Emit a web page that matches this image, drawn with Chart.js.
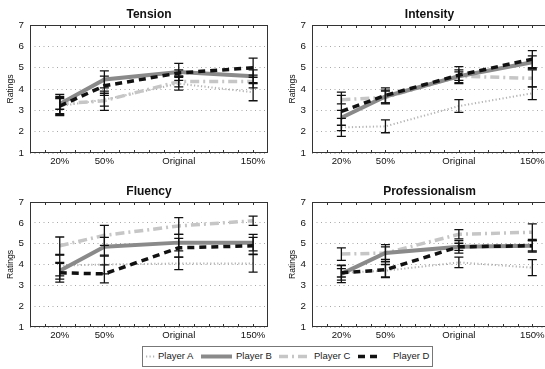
<!DOCTYPE html>
<html>
<head>
<meta charset="utf-8">
<script src="https://cdn.jsdelivr.net/npm/chart.js@4.4.0/dist/chart.umd.min.js"></script>
<style>
  html, body { margin: 0; padding: 0; background: #fff; }
  body { width: 545px; height: 369px; overflow: hidden; position: relative; font-family: "Liberation Sans", Arial, sans-serif; }
  canvas { position: absolute; }
  #legend { position: absolute; left: 142px; top: 346px; width: 289px; height: 19px; border: 1px solid #777; background: #fff; }
  #legend svg { position: absolute; top: 0; }
  #legend span { position: absolute; top: 3px; font-size: 9.5px; color: #222; white-space: nowrap; }
</style>
</head>
<body>
<canvas id="chartTension" style="left:0px;top:0px;width:275px;height:172px"></canvas>
<canvas id="chartIntensity" style="left:282px;top:0px;width:273px;height:172px"></canvas>
<canvas id="chartFluency" style="left:0px;top:177px;width:275px;height:169px"></canvas>
<canvas id="chartProf" style="left:282px;top:177px;width:273px;height:169px"></canvas>
<div id="legend"></div>
<script>
// x positions (speed in %) and their labels
const xValues = [20, 50, 100, 150];
const xLabels = ['20%', '50%', 'Original', '150%'];
const players = ['Player A', 'Player B', 'Player C', 'Player D'];

// Tension
const tensionA = [3.2, 3.5, 4.25, 3.85];
const tensionB = [3.3, 4.45, 4.8, 4.6];
const tensionC = [3.3, 3.45, 4.35, 4.35];
const tensionD = [3.2, 4.15, 4.75, 5.0];
const tensionErrA = [0.4, 0.3, 0.3, 0.4];
const tensionErrB = [0.45, 0.4, 0.4, 0.3];
const tensionErrC = [0.25, 0.45, 0.25, 0.3];
const tensionErrD = [0.45, 0.45, 0.15, 0.45];

// Intensity
const intensityA = [2.2, 2.25, 3.2, 3.8];
const intensityB = [2.65, 3.65, 4.6, 5.25];
const intensityC = [3.5, 3.6, 4.6, 4.5];
const intensityD = [2.95, 3.7, 4.65, 5.4];
const intensityErrA = [0.42, 0.3, 0.3, 0.3];
const intensityErrB = [0.35, 0.3, 0.3, 0.3];
const intensityErrC = [0.2, 0.3, 0.2, 0.4];
const intensityErrD = [0.9, 0.35, 0.4, 0.4];

// Fluency
const fluencyA = [3.95, 4.0, 4.05, 4.05];
const fluencyB = [3.7, 4.85, 5.05, 5.05];
const fluencyC = [4.9, 5.4, 5.85, 6.1];
const fluencyD = [3.6, 3.55, 4.8, 4.9];
const fluencyErrA = [0.5, 0.45, 0.3, 0.42];
const fluencyErrB = [0.4, 0.45, 0.4, 0.4];
const fluencyErrC = [0.42, 0.48, 0.4, 0.22];
const fluencyErrD = [0.45, 0.43, 0.45, 0.4];

// Professionalism
const profA = [3.6, 3.7, 4.1, 3.85];
const profB = [3.55, 4.55, 4.85, 4.9];
const profC = [4.5, 4.55, 5.45, 5.55];
const profD = [3.6, 3.75, 4.85, 4.9];
const profErrA = [0.2, 0.3, 0.25, 0.38];
const profErrB = [0.42, 0.4, 0.3, 0.3];
const profErrC = [0.3, 0.3, 0.22, 0.4];
const profErrD = [0.35, 0.38, 0.17, 0.25];

const FONT = '"Liberation Sans", Arial, sans-serif';

const styles = [
    { borderColor: '#b4b4b4', borderWidth: 2, borderDash: [1.2, 2.3], order: 4 },
    { borderColor: '#8a8a8a', borderWidth: 4, borderDash: [], order: 2 },
    { borderColor: '#c6c6c6', borderWidth: 3.5, borderDash: [9, 4, 2, 4], order: 3 },
    { borderColor: '#111111', borderWidth: 3.5, borderDash: [7, 5], order: 1 }
];

// title drawn centered over the plot area
const panelTitle = {
    id: 'panelTitle',
    afterDraw(chart, args, opts) {
        const ctx = chart.ctx;
        const area = chart.chartArea;
        ctx.save();
        ctx.font = 'bold 12px ' + FONT;
        ctx.fillStyle = '#111';
        ctx.textAlign = 'center';
        ctx.textBaseline = 'middle';
        ctx.fillText(opts.text, (area.left + area.right) / 2, area.top - 10.5);
        ctx.restore();
    }
};

// box around plot area with inward tick marks
const frame = {
    id: 'frame',
    afterDatasetsDraw(chart) {
        const ctx = chart.ctx;
        const area = chart.chartArea;
        const xs = chart.scales.x;
        ctx.save();
        ctx.strokeStyle = '#333';
        ctx.lineWidth = 1;
        ctx.strokeRect(area.left + 0.5, area.top + 0.5, area.right - area.left - 1, area.bottom - area.top - 1);
        ctx.beginPath();
        for (let v = 10; v < 160; v += 10) {
            const px = Math.round(xs.getPixelForValue(v)) + 0.5;
            ctx.moveTo(px, area.top);
            ctx.lineTo(px, area.top + 3);
            ctx.moveTo(px, area.bottom);
            ctx.lineTo(px, area.bottom - 3);
        }
        ctx.stroke();
        ctx.restore();
    }
};

const errorBars = {
    id: 'errorBars',
    afterDatasetsDraw(chart) {
        const ctx = chart.ctx;
        const ys = chart.scales.y;
        ctx.save();
        ctx.strokeStyle = '#111';
        ctx.lineWidth = 1.3;
        chart.data.datasets.forEach((ds, i) => {
            const meta = chart.getDatasetMeta(i);
            meta.data.forEach((pt, j) => {
                const v = ds.data[j].y;
                const e = ds.errors[j];
                const top = ys.getPixelForValue(v + e);
                const bot = ys.getPixelForValue(v - e);
                ctx.beginPath();
                ctx.moveTo(pt.x, top);
                ctx.lineTo(pt.x, bot);
                ctx.moveTo(pt.x - 4.5, top);
                ctx.lineTo(pt.x + 4.5, top);
                ctx.moveTo(pt.x - 4.5, bot);
                ctx.lineTo(pt.x + 4.5, bot);
                ctx.stroke();
            });
        });
        ctx.restore();
    }
};

function makePanel(id, title, series, errors, rightPad) {
    const datasets = series.map((vals, i) => ({
        label: players[i],
        data: vals.map((v, j) => ({ x: xValues[j], y: v })),
        errors: errors[i],
        borderColor: styles[i].borderColor,
        borderWidth: styles[i].borderWidth,
        borderDash: styles[i].borderDash,
        order: styles[i].order,
        pointRadius: 0,
        tension: 0,
        fill: false
    }));
    return new Chart(document.getElementById(id), {
        type: 'line',
        data: { datasets: datasets },
        options: {
            responsive: false,
            animation: false,
            layout: { padding: { top: 25, right: rightPad, left: 0, bottom: 0 } },
            plugins: {
                legend: { display: false },
                tooltip: { enabled: false },
                panelTitle: { text: title }
            },
            scales: {
                x: {
                    type: 'linear',
                    min: 0,
                    max: 160,
                    afterBuildTicks: (scale) => {
                        scale.ticks = xValues.map(v => ({ value: v }));
                    },
                    afterFit: (scale) => { scale.height = 19; },
                    ticks: {
                        autoSkip: false,
                        maxRotation: 0,
                        padding: 3,
                        color: '#111',
                        font: { family: FONT, size: 9.6 },
                        callback: (value) => xLabels[xValues.indexOf(value)]
                    },
                    grid: { display: false, drawTicks: false },
                    border: { display: false }
                },
                y: {
                    min: 1,
                    max: 7,
                    afterFit: (scale) => { scale.width = 30; },
                    ticks: {
                        stepSize: 1,
                        padding: 6,
                        color: '#111',
                        font: { family: FONT, size: 9.8 }
                    },
                    grid: { color: '#a8a8a8', drawTicks: false, lineWidth: 1 },
                    border: { display: false, dash: [1, 3.5] },
                    title: {
                        display: true,
                        text: 'Ratings',
                        color: '#111',
                        padding: { top: 5, bottom: 0 },
                        font: { family: FONT, size: 8.6 }
                    }
                }
            }
        },
        plugins: [panelTitle, errorBars, frame]
    });
}

function sizeCanvas(id) {
    const c = document.getElementById(id);
    c.width = parseInt(c.style.width);
    c.height = parseInt(c.style.height);
}
['chartTension', 'chartIntensity', 'chartFluency', 'chartProf'].forEach(sizeCanvas);

makePanel('chartTension', 'Tension',
    [tensionA, tensionB, tensionC, tensionD],
    [tensionErrA, tensionErrB, tensionErrC, tensionErrD], 7);
makePanel('chartIntensity', 'Intensity',
    [intensityA, intensityB, intensityC, intensityD],
    [intensityErrA, intensityErrB, intensityErrC, intensityErrD], 8);
makePanel('chartFluency', 'Fluency',
    [fluencyA, fluencyB, fluencyC, fluencyD],
    [fluencyErrA, fluencyErrB, fluencyErrC, fluencyErrD], 7);
makePanel('chartProf', 'Professionalism',
    [profA, profB, profC, profD],
    [profErrA, profErrB, profErrC, profErrD], 8);

// legend with line samples
const legendSpots = [
    { line: 3, width: 10, text: 15 },
    { line: 58, width: 31, text: 93 },
    { line: 136, width: 32, text: 171 },
    { line: 215, width: 21, text: 250 }
];
const legend = document.getElementById('legend');
players.forEach((name, i) => {
    const s = styles[i];
    const spot = legendSpots[i];
    const svgNS = 'http://www.w3.org/2000/svg';
    const svg = document.createElementNS(svgNS, 'svg');
    svg.setAttribute('width', spot.width);
    svg.setAttribute('height', 19);
    svg.style.left = spot.line + 'px';
    const ln = document.createElementNS(svgNS, 'line');
    ln.setAttribute('x1', 0);
    ln.setAttribute('x2', spot.width);
    ln.setAttribute('y1', 9.5);
    ln.setAttribute('y2', 9.5);
    ln.setAttribute('stroke', s.borderColor);
    ln.setAttribute('stroke-width', s.borderWidth);
    if (s.borderDash.length) ln.setAttribute('stroke-dasharray', s.borderDash.join(' '));
    svg.appendChild(ln);
    legend.appendChild(svg);
    const label = document.createElement('span');
    label.textContent = name;
    label.style.left = spot.text + 'px';
    legend.appendChild(label);
});
</script>
</body>
</html>
